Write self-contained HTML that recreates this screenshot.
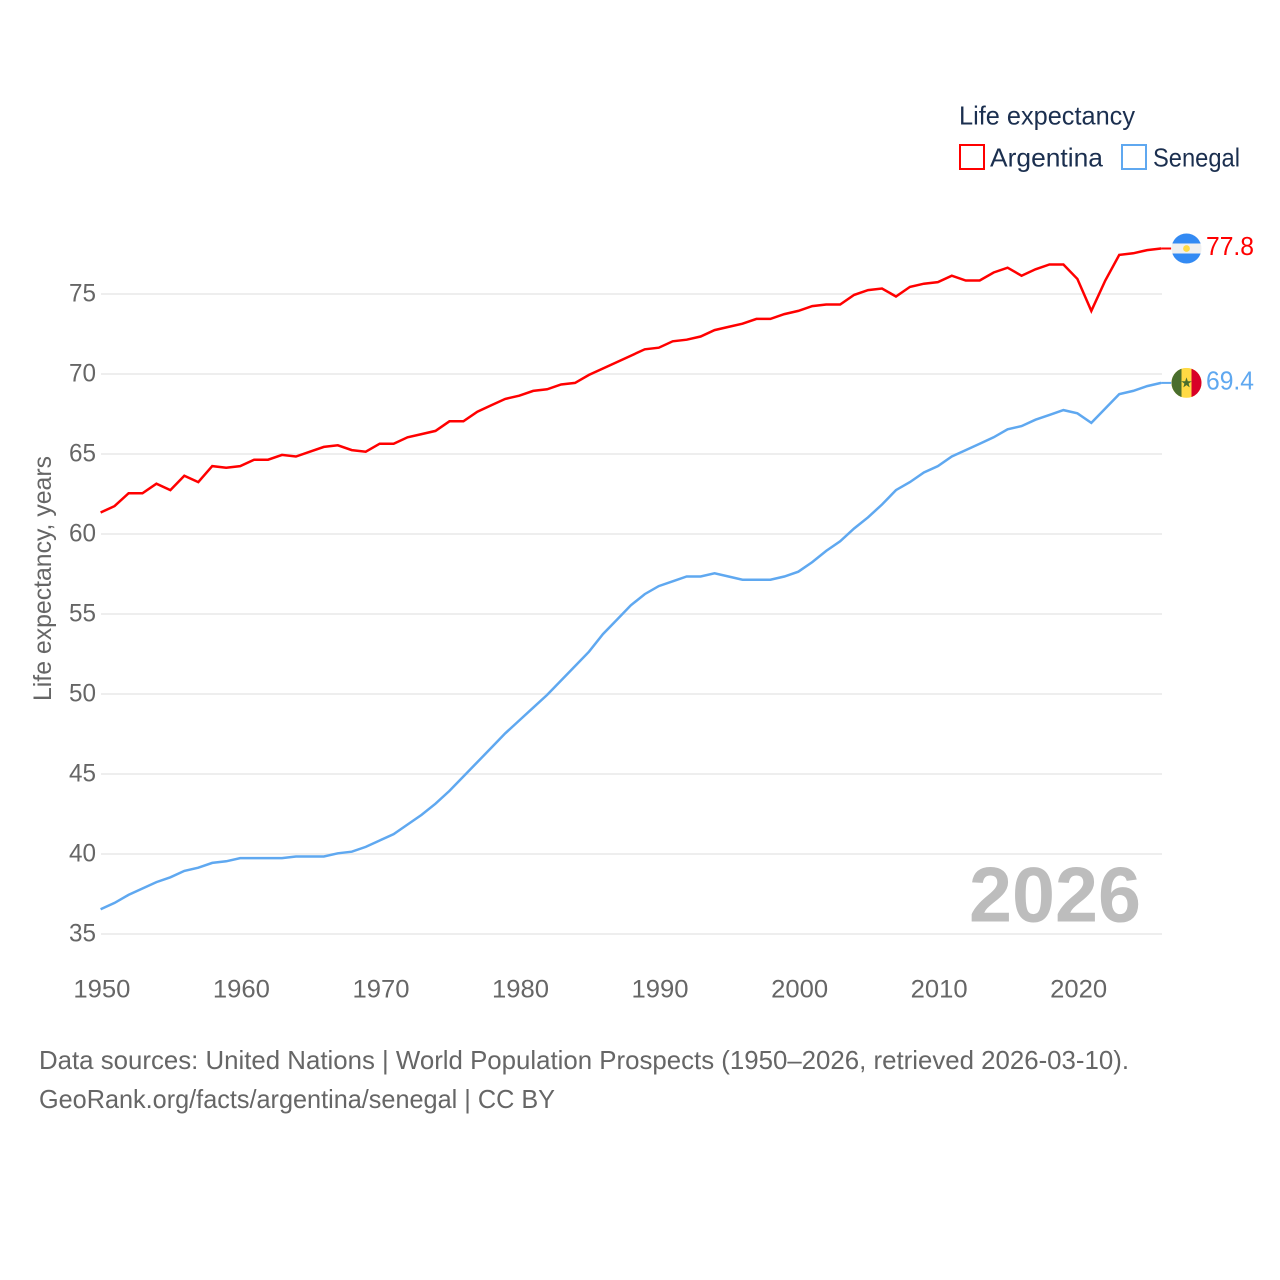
<!DOCTYPE html>
<html>
<head>
<meta charset="utf-8">
<title>Life expectancy: Argentina and Senegal</title>
<style>
html,body{margin:0;padding:0;background:#fff;}
svg{display:block;font-family:"Liberation Sans",sans-serif;}
</style>
</head>
<body>
<svg id="chart" xmlns="http://www.w3.org/2000/svg" width="1280" height="1280" viewBox="0 0 1280 1280">
  <defs>
    <clipPath id="flag-clip"><circle cx="0" cy="0" r="15"/></clipPath>
  </defs>
  <rect x="0" y="0" width="1280" height="1280" fill="#fff"/>
  <g id="grid"></g>
  <g id="y-ticks"></g>
  <g id="x-ticks"></g>

  <text transform="translate(51,701) rotate(-90)" font-size="25" fill="#666" textLength="245" lengthAdjust="spacingAndGlyphs">Life expectancy, years</text>

  <text x="969" y="921.5" font-size="78" font-weight="700" fill="#bdbdbd" textLength="172" lengthAdjust="spacingAndGlyphs">2026</text>

  <g id="series"></g>

  <g>
    <text x="959" y="124.5" font-size="26" fill="#1b2f4f" textLength="176" lengthAdjust="spacingAndGlyphs">Life expectancy</text>
    <g>
      <rect x="960" y="145" width="24" height="24" fill="none" stroke="#ff0000" stroke-width="2"/>
      <text x="990" y="166.5" font-size="26" fill="#1b2f4f" textLength="113" lengthAdjust="spacingAndGlyphs">Argentina</text>
    </g>
    <g>
      <rect x="1122" y="145" width="24" height="24" fill="none" stroke="#5fa8f0" stroke-width="2"/>
      <text x="1153" y="166.5" font-size="26" fill="#1b2f4f" textLength="87" lengthAdjust="spacingAndGlyphs">Senegal</text>
    </g>
  </g>

  <g id="flag-ar">
    <g clip-path="url(#flag-clip)">
      <rect x="-15" y="-15" width="30" height="30" fill="#f0f0f0"/>
      <rect x="-15" y="-15" width="30" height="10" fill="#338af3"/>
      <rect x="-15" y="5" width="30" height="10" fill="#338af3"/>
      <circle cx="0" cy="0" r="3.4" fill="#ffda44"/>
    </g>
  </g>
  <g id="flag-sn">
    <g clip-path="url(#flag-clip)">
      <rect x="-15" y="-15" width="30" height="30" fill="#ffda44"/>
      <rect x="-15" y="-15" width="10" height="30" fill="#496e2d"/>
      <rect x="5" y="-15" width="10" height="30" fill="#d80027"/>
      <polygon points="0,-5.5 1.3,-1.7 5.2,-1.7 2.1,0.7 3.2,4.5 0,2.2 -3.2,4.5 -2.1,0.7 -5.2,-1.7 -1.3,-1.7" fill="#496e2d"/>
    </g>
  </g>

  <g>
    <text x="39" y="1069" font-size="26" fill="#666" textLength="1090" lengthAdjust="spacingAndGlyphs">Data sources: United Nations | World Population Prospects (1950–2026, retrieved 2026-03-10).</text>
    <text x="39" y="1108" font-size="26" fill="#666" textLength="516" lengthAdjust="spacingAndGlyphs">GeoRank.org/facts/argentina/senegal | CC BY</text>
  </g>
</svg>
<script>
const startYear = 1950;
const argentinaValues = [61.3,61.7,62.5,62.5,63.1,62.7,63.6,63.2,64.2,64.1,64.2,64.6,64.6,64.9,64.8,65.1,65.4,65.5,65.2,65.1,65.6,65.6,66.0,66.2,66.4,67.0,67.0,67.6,68.0,68.4,68.6,68.9,69.0,69.3,69.4,69.9,70.3,70.7,71.1,71.5,71.6,72.0,72.1,72.3,72.7,72.9,73.1,73.4,73.4,73.7,73.9,74.2,74.3,74.3,74.9,75.2,75.3,74.8,75.4,75.6,75.7,76.1,75.8,75.8,76.3,76.6,76.1,76.5,76.8,76.8,75.9,73.9,75.8,77.4,77.5,77.7,77.8];
const senegalValues = [36.5,36.9,37.4,37.8,38.2,38.5,38.9,39.1,39.4,39.5,39.7,39.7,39.7,39.7,39.8,39.8,39.8,40.0,40.1,40.4,40.8,41.2,41.8,42.4,43.1,43.9,44.8,45.7,46.6,47.5,48.3,49.1,49.9,50.8,51.7,52.6,53.7,54.6,55.5,56.2,56.7,57.0,57.3,57.3,57.5,57.3,57.1,57.1,57.1,57.3,57.6,58.2,58.9,59.5,60.3,61.0,61.8,62.7,63.2,63.8,64.2,64.8,65.2,65.6,66.0,66.5,66.7,67.1,67.4,67.7,67.5,66.9,67.8,68.7,68.9,69.2,69.4];
const yTickValues = [35,40,45,50,55,60,65,70,75];
const xTickYears = [1950,1960,1970,1980,1990,2000,2010,2020];

const NS = 'http://www.w3.org/2000/svg';
function xScale(year){ return 101.5 + (year - 1950) * (1162 - 101.5) / 76; }
function yScale(v){ return 294 + (75 - v) * 16; }
function make(tag, attrs, parent, content){
  const el = document.createElementNS(NS, tag);
  for (const k in attrs) el.setAttribute(k, attrs[k]);
  if (content !== undefined) el.textContent = content;
  parent.appendChild(el);
  return el;
}

const grid = document.getElementById('grid');
const yTicks = document.getElementById('y-ticks');
const xTicks = document.getElementById('x-ticks');
const seriesGroup = document.getElementById('series');

yTickValues.forEach(function(v){
  const line = make('line', {x1:101, x2:1162, y1:yScale(v), y2:yScale(v), stroke:'#eeeeee', 'stroke-width':2}, grid);
  
  
  const label = make('text', {x:96, y:yScale(v)+7.5, 'text-anchor':'end', 'font-size':25, fill:'#666', textLength:27, lengthAdjust:'spacingAndGlyphs'}, yTicks, String(v));
  
  
});

xTickYears.forEach(function(y){
  const label = make('text', {x:xScale(y)+0.4, y:997.5, 'text-anchor':'middle', 'font-size':25, fill:'#666', textLength:57, lengthAdjust:'spacingAndGlyphs'}, xTicks, String(y));
  
  
});

function drawSeries(values, color, name, flagId){
  const pts = values.map(function(v, i){ return (xScale(startYear + i) - 0.9).toFixed(2) + ',' + (yScale(v) - 0.7).toFixed(2); });
  const last = values[values.length - 1];
  const lastX = xScale(startYear + values.length - 1) - 0.9;
  const lastY = yScale(last) - 0.7;
  const path = make('polyline', {points:pts.join(' '), fill:'none', stroke:color, 'stroke-width':2.5, 'stroke-linejoin':'miter'}, seriesGroup);
  
  
  const lead = make('line', {x1:lastX, x2:lastX + 10, y1:lastY, y2:lastY, stroke:color, 'stroke-width':2}, seriesGroup);
  
  
  document.getElementById(flagId).setAttribute('transform', 'translate(1186.5,' + lastY + ')');
  const valueLabel = make('text', {x:1206, y:lastY + 6.7, 'font-size':26, fill:color, textLength:48, lengthAdjust:'spacingAndGlyphs'}, seriesGroup, last.toFixed(1));
  
  
}
drawSeries(argentinaValues, '#ff0000', 'argentina', 'flag-ar');
drawSeries(senegalValues, '#5fa8f0', 'senegal', 'flag-sn');
</script>
</body>
</html>
